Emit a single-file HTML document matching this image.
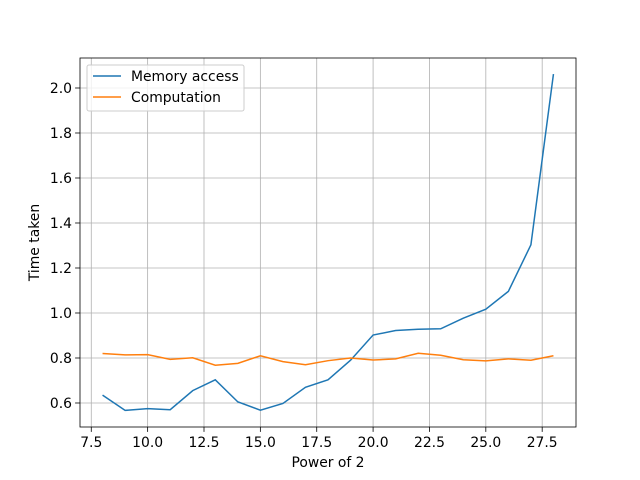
<!DOCTYPE html>
<html><head><meta charset="utf-8"><style>body{margin:0;background:#fff}svg{display:block;font-family:"DejaVu Sans","Liberation Sans",sans-serif}</style></head>
<body>
<svg id="chart" width="640" height="480" xmlns="http://www.w3.org/2000/svg"></svg>
<script>
const xValues=[8,9,10,11,12,13,14,15,16,17,18,19,20,21,22,23,24,25,26,27,28];
const memoryAccess=[0.635,0.567,0.575,0.570,0.655,0.703,0.605,0.568,0.598,0.670,0.703,0.790,0.902,0.922,0.928,0.930,0.977,1.017,1.096,1.303,2.062];
const computation=[0.820,0.814,0.815,0.794,0.801,0.768,0.776,0.810,0.784,0.770,0.788,0.800,0.791,0.796,0.821,0.812,0.792,0.787,0.796,0.790,0.810];
const xTicks=[7.5,10.0,12.5,15.0,17.5,20.0,22.5,25.0,27.5];
const yTicks=[0.6,0.8,1.0,1.2,1.4,1.6,1.8,2.0];
const L=80,R=576,T=58,B=427,X0=7,X1=29,Y0=0.4933,Y1=2.1333,FS=13.9;
const sx=v=>L+(v-X0)/(X1-X0)*(R-L);
const sy=v=>B-(v-Y0)/(Y1-Y0)*(B-T);
const svg=document.getElementById('chart');const NS='http://www.w3.org/2000/svg';
function mk(t,a,p){const e=document.createElementNS(NS,t);for(const k in a)e.setAttribute(k,a[k]);(p||svg).appendChild(e);return e;}
xTicks.forEach(v=>{const x=sx(v);
const g=mk('line',{x1:x,x2:x,y1:T,y2:B,stroke:'#b0b0b0','stroke-width':0.8});


mk('line',{x1:x,x2:x,y1:B,y2:B+4.9,stroke:'#000','stroke-width':0.8});
const t=mk('text',{x:x,y:B+20,'text-anchor':'middle','font-size':FS});t.textContent=v.toFixed(1);

});
yTicks.forEach(v=>{const y=sy(v);
const g=mk('line',{x1:L,x2:R,y1:y,y2:y,stroke:'#b0b0b0','stroke-width':0.8});


mk('line',{x1:L-4.9,x2:L,y1:y,y2:y,stroke:'#000','stroke-width':0.8});
const t=mk('text',{x:L-8,y:y+5,'text-anchor':'end','font-size':FS});t.textContent=v.toFixed(1);

});
function line(d,c,n){const p=mk('polyline',{points:d.map((v,i)=>sx(xValues[i])+','+sy(v)).join(' '),fill:'none',stroke:c,'stroke-width':1.5});

}
line(memoryAccess,'#1f77b4','memory-access-line');
line(computation,'#ff7f0e','computation-line');
const f=mk('rect',{x:L,y:T,width:R-L,height:B-T,fill:'none',stroke:'#000','stroke-width':0.8});


const xl=mk('text',{x:(L+R)/2,y:467,'text-anchor':'middle','font-size':FS});xl.textContent='Power of 2';


const yl=mk('text',{x:0,y:0,'text-anchor':'middle','font-size':FS,transform:'translate(39,'+((T+B)/2)+') rotate(-90)'});yl.textContent='Time taken';


const lg=mk('g',{});


mk('rect',{x:87,y:65,width:157,height:46,rx:2,fill:'#fff','fill-opacity':0.8,stroke:'#ccc'},lg);
[['Memory access','#1f77b4'],['Computation','#ff7f0e']].forEach((e,i)=>{const y=76+i*21;
mk('line',{x1:93,x2:121,y1:y,y2:y,stroke:e[1],'stroke-width':1.5},lg);
const t=mk('text',{x:131,y:y+5,'font-size':FS},lg);t.textContent=e[0];

});
</script>
</body></html>
